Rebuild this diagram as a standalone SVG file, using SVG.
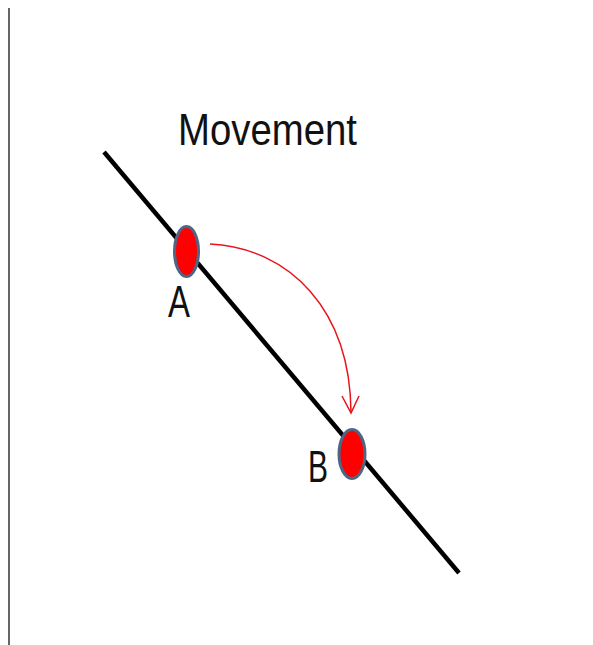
<svg xmlns="http://www.w3.org/2000/svg" width="593" height="645" viewBox="0 0 593 645">
<style>
.lbl{font-family:"Liberation Sans",Arial,sans-serif;fill:#111;}
.pt{fill:#ff0000;stroke:#4f6585;stroke-width:3;}
</style>
<rect width="593" height="645" fill="#fff"/>
<line x1="9" y1="8" x2="9" y2="645" stroke="#333" stroke-width="1.5"/>
<g id="track"><line x1="104" y1="152" x2="459" y2="573" stroke="#000" stroke-width="4.5"/></g>
<g id="title"><text class="lbl" x="178" y="145" font-size="44" textLength="179" lengthAdjust="spacingAndGlyphs">Movement</text></g>
<g id="connectors">
<path d="M210,244 C290,248 350,310 351,412" fill="none" stroke="#e8141c" stroke-width="1.5"/>
<path d="M342,396 L351,413 L359,396" fill="none" stroke="#e8141c" stroke-width="1.5"/>
</g>
<g id="A"><ellipse class="pt" cx="186.5" cy="251.5" rx="12" ry="25"/><text class="lbl" x="179" y="317" font-size="44" text-anchor="middle" textLength="22" lengthAdjust="spacingAndGlyphs">A</text></g>
<g id="B"><ellipse class="pt" cx="352" cy="454" rx="13" ry="24.5"/><text class="lbl" x="318" y="482" font-size="44" text-anchor="middle" textLength="20" lengthAdjust="spacingAndGlyphs">B</text></g>
</svg>
